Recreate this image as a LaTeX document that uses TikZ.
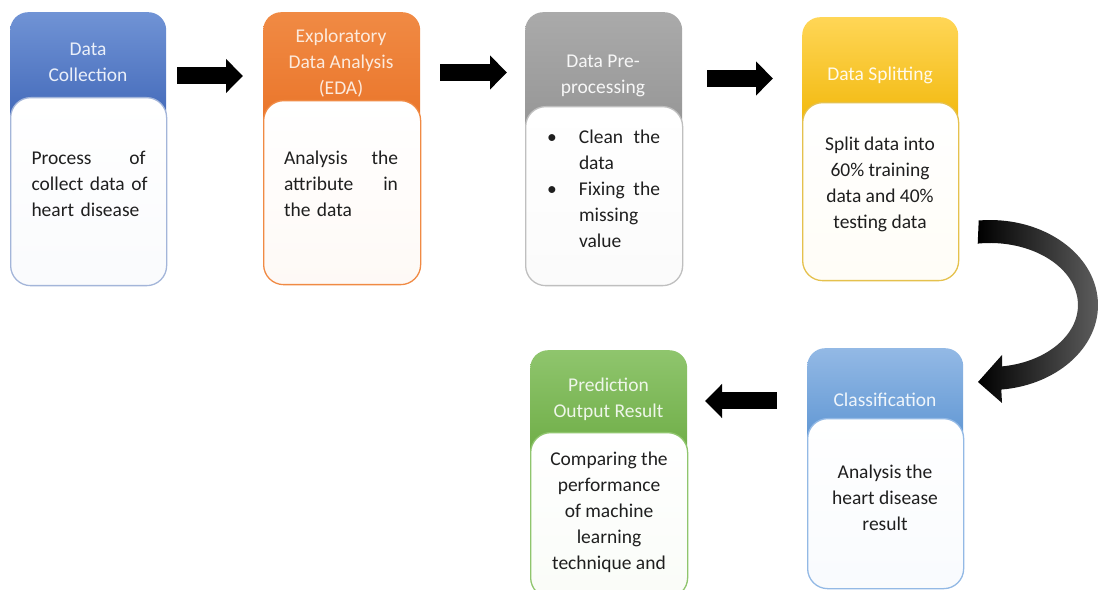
\documentclass[tikz,border=0pt]{standalone}
\usepackage{fontspec}
\setmainfont{Carlito}
\usetikzlibrary{arrows.meta}

\definecolor{collecttop}{HTML}{7093D5}
\definecolor{collectbot}{HTML}{3C63B5}
\definecolor{collectline}{HTML}{A3B5D9}
\definecolor{edatop}{HTML}{F08A44}
\definecolor{edabot}{HTML}{E97226}
\definecolor{prepatop}{HTML}{AAAAAA}
\definecolor{prepabot}{HTML}{939393}
\definecolor{splittop}{HTML}{FFD656}
\definecolor{splitbot}{HTML}{EFB300}
\definecolor{classtop}{HTML}{93B9E5}
\definecolor{classbot}{HTML}{5690D0}
\definecolor{predtop}{HTML}{8FC56D}
\definecolor{predbot}{HTML}{69A940}

\begin{document}
\begin{tikzpicture}[x=1pt,y=1pt,
	head/.style={anchor=north west,rounded corners=18pt,inner sep=0pt,minimum width=156pt},
	body/.style={anchor=north west,rounded corners=20pt,inner sep=0pt,minimum width=156pt,line width=1.3pt},
	headtxt/.style={align=center,font=\fontsize{19.5}{26}\selectfont},
	bodytxt/.style={align=center,text=black!88,font=\fontsize{19.5}{26}\selectfont},
	blockarrow/.style={line width=17pt,-{Triangle[width=33pt,length=17pt]}}]
	\useasboundingbox (0,0) rectangle (1099,589);
	
	% top row
	\node[head,top color=collecttop,bottom color=collectbot,minimum height=125pt] (collect) at (10,577) {};
	\node[body,draw=collectline,top color=white,bottom color=white!94!collectline,minimum height=188pt] (collect-body) at (10,492) {};
	\node[headtxt,text=white!85!collecttop] (collect-txt) at (88,527) {Data\\Collection};
	\node[bodytxt,text width=114pt,align=left] (collect-desc) at (88.5,405) {Process\hfill of\\\mbox{collect data of}\\heart disease};
	
	\node[head,top color=edatop,bottom color=edabot,minimum width=157pt,minimum height=128pt] (eda) at (263,577) {};
	\node[body,draw=edatop,top color=white,bottom color=white!95!edatop,minimum width=157pt,minimum height=184pt] (eda-body) at (263,489) {};
	\node[headtxt,text=white!82!edatop] (eda-txt) at (341,526) {Exploratory\\Data Analysis\\(EDA)};
	\node[bodytxt,text width=114pt,align=left] (eda-desc) at (341,405) {Analysis\hfill the\\attribute\hfill in\\the data};
	
	\node[head,top color=prepatop,bottom color=prepabot,minimum width=157pt,minimum height=134pt] (prep) at (525,577) {};
	\node[body,draw=prepatop!75,top color=white,bottom color=white!95!prepatop,minimum width=157pt,minimum height=179pt] (prep-body) at (525,483) {};
	\node[headtxt,text=white!90!prepatop] (prep-txt) at (603,513) {Data Pre-\\processing};
	\node[bodytxt,text width=115pt,align=left] (prep-desc) at (602.5,400) {%
		\makebox[34pt][l]{\hspace{2pt}\textbullet}Clean\hfill the\\
		\hspace*{34pt}data\\
		\makebox[34pt][l]{\hspace{2pt}\textbullet}Fixing\hfill the\\
		\hspace*{34pt}missing\\
		\hspace*{34pt}value};
	
	\node[head,top color=splittop,bottom color=splitbot,minimum height=125pt] (split) at (802,572) {};
	\node[body,draw=splittop!90!black,top color=white,bottom color=white!95!splittop,minimum height=178pt] (split-body) at (802,487) {};
	\node[headtxt,text=white!88!splittop] (split-txt) at (880,514) {Data Splitting};
	\node[bodytxt] (split-desc) at (880,404.5) {Split data into\\60\% training\\data and 40\%\\testing data};
	
	% bottom row
	\node[head,top color=classtop,bottom color=classbot,minimum height=110pt] (class) at (807,241) {};
	\node[body,draw=classtop,top color=white,bottom color=white!94!classtop,minimum height=170pt] (class-body) at (807,171) {};
	\node[headtxt,text=white!85!classtop] (class-txt) at (885,189) {Classification};
	\node[bodytxt] (class-desc) at (885,91.5) {Analysis the\\heart disease\\result};
	
	\node[head,top color=predtop,bottom color=predbot,minimum width=157pt,minimum height=122pt] (pred) at (530,239) {};
	\node[body,draw=predtop,top color=white,bottom color=white!95!predtop,minimum width=157pt,minimum height=165pt] (pred-body) at (530,157) {};
	\node[headtxt,text=white!85!predtop] (pred-txt) at (608.5,189.5) {Prediction\\Output Result};
	\node[bodytxt] (pred-desc) at (609,76.5) {Comparing the\\performance\\of machine\\learning\\technique and};
	
	% arrows between the stages
	\coordinate (a1s) at (177,513);
	\coordinate (a1e) at (243,513);
	\coordinate (a2s) at (440,516.5);
	\coordinate (a2e) at (507,516.5);
	\coordinate (a3s) at (707,510.5);
	\coordinate (a3e) at (773,510.5);
	\coordinate (a4s) at (777,188);
	\coordinate (a4e) at (705,188);
	\draw[blockarrow] (a1s) -- (a1e);
	\draw[blockarrow] (a2s) -- (a2e);
	\draw[blockarrow] (a3s) -- (a3e);
	\draw[blockarrow] (a4s) -- (a4e);
	
	% bent arrow down to classification
	\shade[left color=black,middle color=black,right color=black!62]
		(978.7,368.5) arc[start angle=96,end angle=-84,x radius=108,y radius=85]
		-- (1002,186) -- (978,207) -- (1002,234) -- (1002.2,222.6)
		arc[start angle=-82,end angle=98,x radius=88,y radius=62] -- cycle;
\end{tikzpicture}
\end{document}
